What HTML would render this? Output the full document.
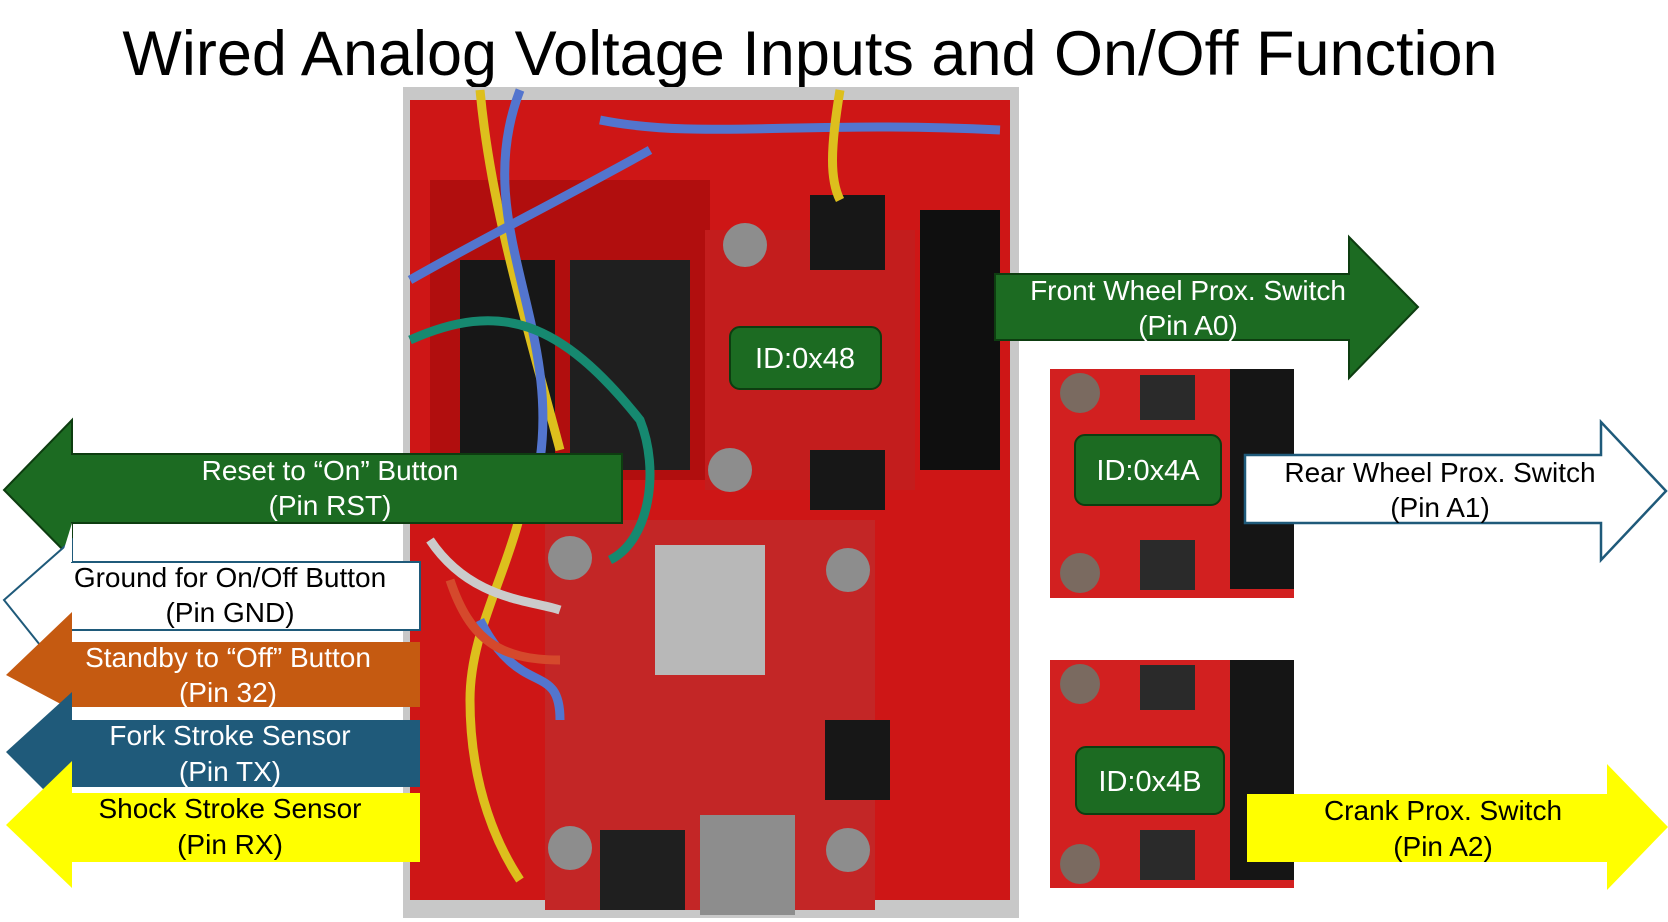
<!DOCTYPE html>
<html><head><meta charset="utf-8"><style>
html,body{margin:0;padding:0;background:#fff}
svg{display:block}
text{font-family:"Liberation Sans",sans-serif}
</style></head><body>
<svg width="1668" height="922" viewBox="0 0 1668 922" xmlns="http://www.w3.org/2000/svg">
<rect width="1668" height="922" fill="#fff"/>
<text x="810" y="75" font-size="63" text-anchor="middle" fill="#000">Wired Analog Voltage Inputs and On/Off Function</text>

<rect x="403" y="87" width="616" height="831" fill="#d9d9d9"/>
<rect x="410" y="100" width="600" height="800" fill="#e01818"/>
<rect x="430" y="180" width="280" height="300" fill="#c01010"/>
<rect x="460" y="260" width="95" height="200" fill="#1a1a1a"/>
<rect x="570" y="260" width="120" height="210" fill="#222"/>
<rect x="705" y="230" width="210" height="260" fill="#d42020"/>
<rect x="920" y="210" width="80" height="260" fill="#111"/>
<rect x="810" y="195" width="75" height="75" fill="#1a1a1a"/>
<rect x="810" y="450" width="75" height="60" fill="#1a1a1a"/>
<rect x="545" y="520" width="330" height="390" fill="#d42a2a"/>
<rect x="655" y="545" width="110" height="130" fill="#c8c8c8"/>
<rect x="600" y="830" width="85" height="80" fill="#222"/>
<rect x="700" y="815" width="95" height="100" fill="#9a9a9a"/>
<rect x="825" y="720" width="65" height="80" fill="#1a1a1a"/>
<circle cx="745" cy="245" r="22" fill="#999"/>
<circle cx="730" cy="470" r="22" fill="#999"/>
<circle cx="570" cy="558" r="22" fill="#999"/>
<circle cx="848" cy="570" r="22" fill="#999"/>
<circle cx="570" cy="848" r="22" fill="#999"/>
<circle cx="848" cy="850" r="22" fill="#999"/>
<g fill="none" stroke-width="9">
<path d="M480 90 C490 200 520 300 560 450" stroke="#f0d020"/>
<path d="M520 90 C470 220 560 320 540 460" stroke="#5b7fe0"/>
<path d="M600 120 C700 140 800 120 1000 130 1010 220" stroke="#5b7fe0"/>
<path d="M410 280 C480 240 560 200 650 150" stroke="#5b7fe0"/>
<path d="M410 340 C500 300 560 320 640 420 C660 470 650 540 610 560" stroke="#18957a"/>
<path d="M530 460 C520 560 470 620 470 700 C470 790 500 850 520 880" stroke="#f0d020"/>
<path d="M480 620 C520 700 560 660 560 720" stroke="#5b7fe0"/>
<path d="M430 540 C470 600 530 600 560 610" stroke="#dddddd"/>
<path d="M450 580 C470 640 500 660 560 660" stroke="#e85030"/>
<path d="M840 90 C830 150 830 180 840 200" stroke="#f0d020"/>
</g>
<rect x="403" y="87" width="616" height="831" fill="#000" opacity="0.08"/>

<g>
<rect x="1050" y="369" width="244" height="229" fill="#d22020"/>
<rect x="1230" y="369" width="64" height="220" fill="#151515"/>
<rect x="1140" y="375" width="55" height="45" fill="#2a2a2a"/>
<rect x="1140" y="540" width="55" height="50" fill="#2a2a2a"/>
<circle cx="1080" cy="393" r="20" fill="#7a6a60"/>
<circle cx="1080" cy="573" r="20" fill="#7a6a60"/>
</g>
<g>
<rect x="1050" y="660" width="244" height="228" fill="#d22020"/>
<rect x="1230" y="660" width="64" height="220" fill="#151515"/>
<rect x="1140" y="665" width="55" height="45" fill="#2a2a2a"/>
<rect x="1140" y="830" width="55" height="50" fill="#2a2a2a"/>
<circle cx="1080" cy="684" r="20" fill="#7a6a60"/>
<circle cx="1080" cy="864" r="20" fill="#7a6a60"/>
</g>

<g font-size="29" text-anchor="middle">
<rect x="730" y="327" width="151" height="62" rx="10" fill="#1c6b22" stroke="#0d3d10" stroke-width="2"/>
<text x="805" y="368" fill="#fff">ID:0x48</text>
<rect x="1075" y="435" width="146" height="70" rx="10" fill="#1c6b22" stroke="#0d3d10" stroke-width="2"/>
<text x="1148" y="480" fill="#fff">ID:0x4A</text>
<rect x="1076" y="747" width="148" height="67" rx="10" fill="#1c6b22" stroke="#0d3d10" stroke-width="2"/>
<text x="1150" y="791" fill="#fff">ID:0x4B</text>
</g>

<polygon points="995,274 1349,274 1349,237 1418,307 1349,378 1349,340 995,340" fill="#1c6b22" stroke="#0d3d10" stroke-width="2"/>
<text x="1188" y="300" font-size="28" fill="#fff" text-anchor="middle">Front Wheel Prox. Switch</text>
<text x="1188" y="335" font-size="28" fill="#fff" text-anchor="middle">(Pin A0)</text>

<polygon points="1245,455 1601,455 1601,422 1666,491 1601,560 1601,523 1245,523" fill="#fff" stroke="#1f5a7a" stroke-width="2.5"/>
<text x="1440" y="482" font-size="28" fill="#000" text-anchor="middle">Rear Wheel Prox. Switch</text>
<text x="1440" y="517" font-size="28" fill="#000" text-anchor="middle">(Pin A1)</text>

<polygon points="1247,794 1607,794 1607,764 1668,827 1607,890 1607,862 1247,862" fill="#ffff00"/>
<text x="1443" y="820" font-size="28" fill="#000" text-anchor="middle">Crank Prox. Switch</text>
<text x="1443" y="856" font-size="28" fill="#000" text-anchor="middle">(Pin A2)</text>

<polygon points="622,454 72,454 72,420 4,490 72,559 72,523 622,523" fill="#1c6b22" stroke="#0d3d10" stroke-width="2"/>
<text x="330" y="480" font-size="28" fill="#fff" text-anchor="middle">Reset to “On” Button</text>
<text x="330" y="515" font-size="28" fill="#fff" text-anchor="middle">(Pin RST)</text>

<polygon points="420,562 72,562 72,540 4,600 44,650 72,630 420,630" fill="#fff" stroke="#1f5a7a" stroke-width="2"/>
<polygon points="72,523 72,562 60,562" fill="#fff"/>
<text x="230" y="587" font-size="28" fill="#000" text-anchor="middle">Ground for On/Off Button</text>
<text x="230" y="622" font-size="28" fill="#000" text-anchor="middle">(Pin GND)</text>

<polygon points="420,642 72,642 72,612 6,675 72,710 72,707 420,707" fill="#c55a11"/>
<text x="228" y="667" font-size="28" fill="#fff" text-anchor="middle">Standby to “Off” Button</text>
<text x="228" y="702" font-size="28" fill="#fff" text-anchor="middle">(Pin 32)</text>

<polygon points="420,720 72,720 72,692 6,752 44,790 72,787 420,787" fill="#1f5a7a"/>
<text x="230" y="745" font-size="28" fill="#fff" text-anchor="middle">Fork Stroke Sensor</text>
<text x="230" y="781" font-size="28" fill="#fff" text-anchor="middle">(Pin TX)</text>

<polygon points="420,793 72,793 72,761 6,825 72,888 72,862 420,862" fill="#ffff00"/>
<text x="230" y="818" font-size="28" fill="#000" text-anchor="middle">Shock Stroke Sensor</text>
<text x="230" y="854" font-size="28" fill="#000" text-anchor="middle">(Pin RX)</text>
</svg>
</body></html>
